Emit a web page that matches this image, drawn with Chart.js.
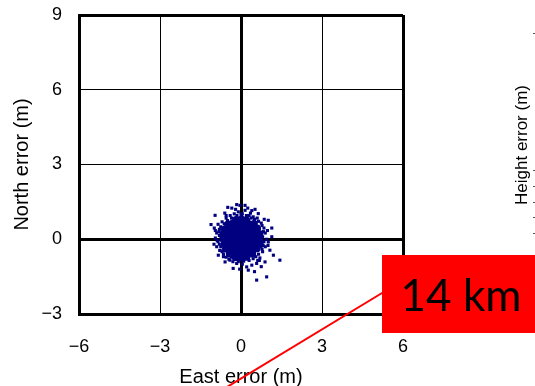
<!DOCTYPE html>
<html><head><meta charset="utf-8">
<script src="https://cdn.jsdelivr.net/npm/chart.js@4"></script>
<style>html,body{margin:0;padding:0;background:#fff;overflow:hidden}canvas{display:block}</style>
</head><body>
<canvas id="c" width="535" height="386"></canvas>
<script>
// Axis ticks
const xTicks = [-6, -3, 0, 3, 6];
const yTicks = [-3, 0, 3, 6, 9];

// Dense core of the error cloud (East, North) in metres
const coreEast  = [-0.18,0.02,0.2,
  -0.48,-0.3,-0.1,0.1,0.3,0.48,
  -0.6,-0.4,-0.2,0,0.2,0.4,0.6,
  -0.66,-0.5,-0.3,-0.1,0.1,0.3,0.5,0.68,
  -0.66,-0.5,-0.3,-0.1,0.1,0.3,0.5,0.68,
  -0.6,-0.4,-0.2,0,0.2,0.4,0.6,0.7,
  -0.56,-0.4,-0.2,0,0.2,0.4,0.58,
  -0.42,-0.2,0,0.2,0.42,
  -0.2,0,0.2];
const coreNorth = [0.78,0.8,0.76,
  0.6,0.64,0.62,0.65,0.6,0.62,
  0.4,0.44,0.42,0.4,0.43,0.41,0.44,
  0.2,0.24,0.22,0.2,0.23,0.21,0.22,0.2,
  0.02,0,0.03,0.01,0.02,0,0.03,0.01,
  -0.18,-0.2,-0.17,-0.19,-0.18,-0.2,-0.17,-0.2,
  -0.38,-0.4,-0.37,-0.39,-0.38,-0.4,-0.37,
  -0.58,-0.6,-0.57,-0.59,-0.58,
  -0.72,-0.74,-0.71];

// Scattered fringe points (East, North) in metres
const fringeEast  = [-0.16,-0.04,-0.34,-0.49,0.15,0.15,0.52,0.35,-0.1,0.05,-0.25,0.3,-0.4,0.45,-0.55,
  0.64,0.6,0.86,1.01,0.75,-0.7,-0.96,-0.85,-1.11,-0.99,-0.8,-0.9,1.14,0.85,0.9,1.14,0.95,-0.95,-0.85,
  -0.9,1.01,0.9,1.07,0.8,1.2,1.44,0.89,0.7,0.58,0.4,0.21,0.27,0.05,-0.16,-0.3,-0.41,-0.59,-0.29,-0.84,
  -0.7,-0.75,0.95,0.58,0.5,-0.05,0.75,-0.6,0.25,-0.65,0.68,-0.5,0.82,-0.78,
  -0.75,-0.82,-0.8,-0.88,-0.8,-0.78,-0.65,-0.55,-0.45,-0.35,-0.1,0.1,0.3,0.45,0.55,0.65,0.78,0.82,
  0.85,0.8,0.83,0.78,0.65,0.5,0.38,0.2,0,-0.15,-0.35,-0.5,-0.62,-0.7,-0.95,0.98,1.0,-1.0,0.62,-0.55,0.4,-0.2];
const fringeNorth = [1.39,1.36,1.25,1.28,1.36,1.16,1.2,1.05,1.1,1.02,1.02,0.95,0.95,0.9,0.85,
  1.03,0.85,0.8,0.76,0.65,0.7,0.96,0.6,0.59,0.45,0.4,0.25,0.45,0.45,0.25,0.1,0,0.05,-0.1,
  -0.3,-0.11,-0.3,-0.44,-0.5,-0.64,-0.84,-0.91,-0.75,-0.97,-1.04,-1.11,-1.24,-1,-0.97,-0.9,-0.84,-0.91,-1.17,-0.64,
  -0.5,-0.3,-1.51,-1.64,-1.3,-1.2,-1.1,1.05,1.25,-0.7,-0.85,0.75,0.3,-0.45,
  0.5,0.3,0.15,-0.05,-0.2,-0.45,-0.6,-0.72,-0.8,-0.72,-0.9,-0.88,-0.85,-0.78,-0.7,-0.6,-0.4,-0.25,
  -0.1,0.1,0.3,0.55,0.72,0.8,0.85,0.95,1.0,0.95,0.85,0.75,0.62,0.2,0.35,0.35,-0.25,-0.2,-0.85,0.95,1.15,1.2];

const zip = (xs, ys) => xs.map((x, i) => ({x: x, y: ys[i]}));
const fmt = v => (v < 0 ? '\u2212' + Math.abs(v) : String(v));
const NAVY = '#000080';

const overlay = {
  id: 'overlay',
  afterDraw(chart) {
    const ctx = chart.ctx;
    ctx.save();
    // small leftovers of the neighbouring chart
    ctx.fillStyle = '#555';
    [33, 170, 186, 202, 217, 233].forEach(y => ctx.fillRect(533, y, 2, 1));
    ctx.fillStyle = '#000';
    ctx.font = '17px "Liberation Sans", Arial, sans-serif';
    ctx.textAlign = 'center';
    ctx.textBaseline = 'middle';
    ctx.translate(522, 145);
    ctx.rotate(-Math.PI / 2);
    ctx.fillText('Height error (m)', 0, 0);
    ctx.restore();

    ctx.save();
    ctx.strokeStyle = '#ff0000';
    ctx.lineWidth = 2;
    ctx.beginPath();
    ctx.moveTo(227, 387);
    ctx.lineTo(420, 270);
    ctx.stroke();
    ctx.fillStyle = '#ff0000';
    ctx.fillRect(382, 255, 153, 78);
    ctx.fillStyle = '#000';
    ctx.font = '44px Lato, "Open Sans", sans-serif';
    ctx.textAlign = 'center';
    ctx.textBaseline = 'alphabetic';
    ctx.fillText('14 km', 461, 311);
    ctx.restore();
  }
};

const thick = (ctx, ticks) => {
  const v = ctx.tick ? ctx.tick.value : null;
  return (v === 0 || v === ticks[0] || v === ticks[ticks.length - 1]) ? 3 : 1;
};

new Chart(document.getElementById('c'), {
  type: 'scatter',
  data: {
    datasets: [
      {data: zip(coreEast, coreNorth), backgroundColor: NAVY, borderColor: NAVY, pointRadius: 3.9, pointStyle: 'circle', borderWidth: 0},
      {data: zip(fringeEast, fringeNorth), backgroundColor: NAVY, borderColor: NAVY, pointRadius: 2.2, pointStyle: 'rect', borderWidth: 0}
    ]
  },
  options: {
    responsive: false,
    devicePixelRatio: 1,
    animation: false,
    layout: {padding: {top: 15, right: 132, left: 0, bottom: 0}},
    plugins: {legend: {display: false}, tooltip: {enabled: false}},
    scales: {
      x: {
        type: 'linear', min: -6, max: 6,
        afterBuildTicks: s => { s.ticks = xTicks.map(v => ({value: v})); },
        afterFit: s => { s.height = 72; s.paddingLeft = 0; s.paddingRight = 0; },
        ticks: {callback: v => fmt(v), color: '#000', padding: 22, font: {family: '"Liberation Sans", Arial, sans-serif', size: 18}, maxRotation: 0},
        grid: {color: '#000', lineWidth: ctx => thick(ctx, xTicks), drawTicks: false},
        border: {display: true, color: '#000', width: 3},
        title: {display: true, text: 'East error (m)', color: '#000', font: {family: '"Liberation Sans", Arial, sans-serif', size: 20, lineHeight: 1}, padding: {top: 0, bottom: -1}}
      },
      y: {
        type: 'linear', min: -3, max: 9,
        afterBuildTicks: s => { s.ticks = yTicks.map(v => ({value: v})); },
        afterFit: s => { s.width = 79; s.paddingTop = 0; s.paddingBottom = 0; },
        ticks: {callback: v => fmt(v), color: '#000', padding: 17, font: {family: '"Liberation Sans", Arial, sans-serif', size: 18}},
        grid: {color: '#000', lineWidth: ctx => thick(ctx, yTicks), drawTicks: false},
        border: {display: true, color: '#000', width: 3},
        title: {display: true, text: 'North error (m)', color: '#000', font: {family: '"Liberation Sans", Arial, sans-serif', size: 20, lineHeight: 1}, padding: {top: 12, bottom: 0}}
      }
    }
  },
  plugins: [overlay]
});
</script>
</body></html>
